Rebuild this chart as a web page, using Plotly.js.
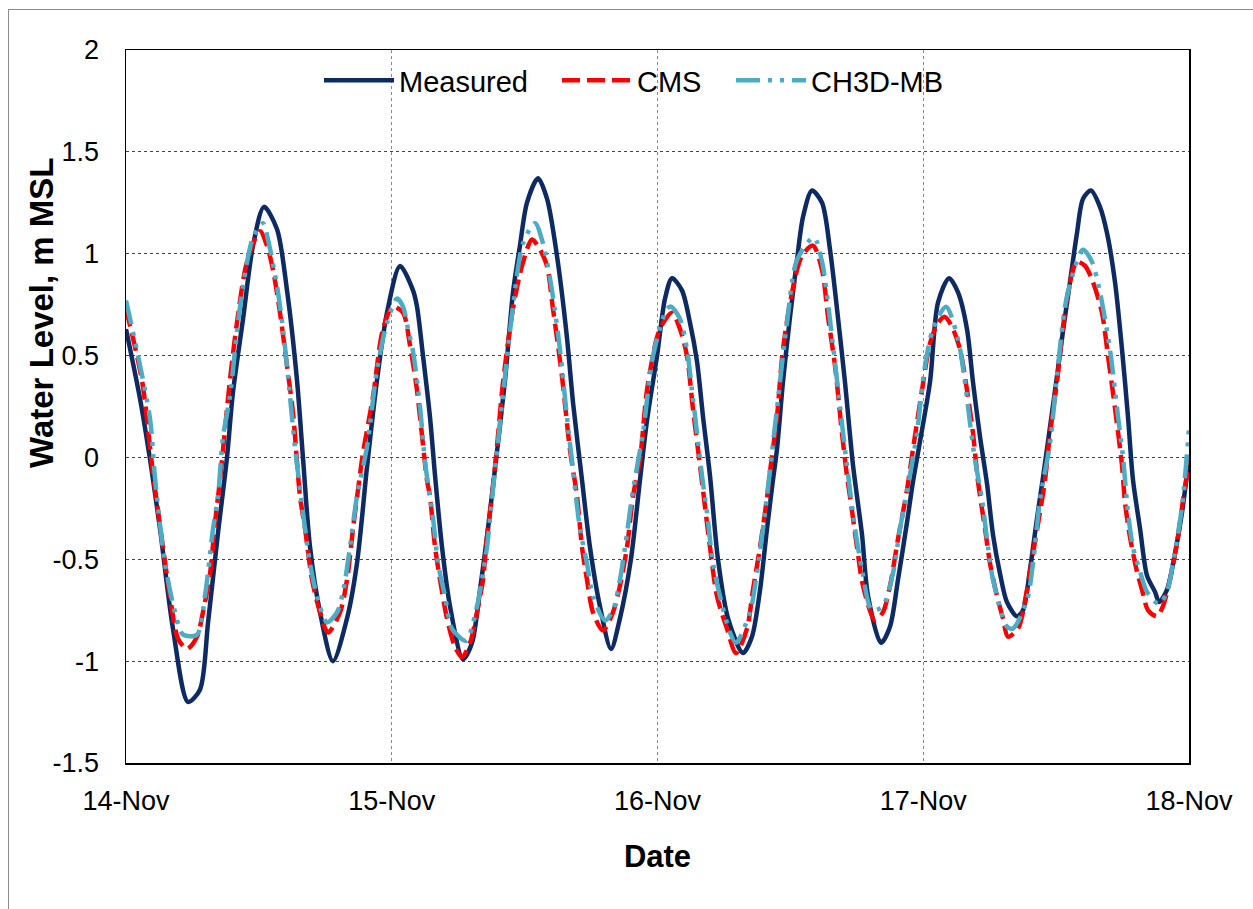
<!DOCTYPE html>
<html><head><meta charset="utf-8">
<script src="https://cdn.plot.ly/plotly-3.0.1.min.js"></script>
<style>
html,body{margin:0;padding:0;background:#fff;}
#chart{width:1253px;height:909px;}
#frame{position:absolute;left:8px;top:9px;width:1252px;height:906px;border:1px solid #8c8c8c;box-sizing:border-box;pointer-events:none;}
</style>
</head><body>
<div id="chart"></div><div id="frame"></div>
<script>
// Hours after 14-Nov 00:00 and water level (m MSL)
const measuredHours = [0.00,1.26,2.17,3.07,4.24,5.60,6.68,7.41,8.31,9.12,9.66,10.57,11.47,12.46,13.64,14.54,15.44,15.98,16.62,17.52,18.69,19.96,20.86,21.76,22.67,23.57,24.75,25.92,26.28,26.82,27.45,27.91,28.54,29.26,30.43,31.25,31.97,32.60,33.23,34.23,34.95,35.58,36.21,37.21,38.02,38.92,39.82,40.37,41.18,41.90,42.80,43.80,44.61,45.60,46.42,47.05,47.96,48.68,49.31,50.21,50.94,51.57,52.11,52.74,53.46,54.37,55.72,56.53,57.26,57.89,58.43,58.79,59.33,59.97,60.60,61.14,61.95,62.86,63.58,64.21,64.93,65.66,66.47,67.01,68.18,69.00,69.72,70.53,71.07,71.71,72.61,73.33,74.33,75.14,75.95,76.49,77.13,77.76,78.30,78.93,79.56,80.47,81.01,81.64,82.27,82.81,83.17,84.08,84.62,85.25,85.88,86.43,87.15,87.96,88.60,89.32,89.95,90.49,90.94,91.58,92.21,92.93,93.29,94.01,94.74,95.37,96.00];
const measuredLevel = [0.63,0.29,-0.01,-0.35,-0.84,-1.20,-1.14,-0.81,-0.37,0.00,0.32,0.68,1.04,1.23,1.12,0.82,0.38,0.00,-0.44,-0.76,-1.00,-0.79,-0.52,-0.05,0.38,0.71,0.94,0.82,0.74,0.50,0.20,-0.09,-0.44,-0.73,-0.99,-0.91,-0.65,-0.39,-0.10,0.38,0.81,1.04,1.25,1.37,1.27,0.99,0.59,0.27,-0.11,-0.44,-0.73,-0.94,-0.79,-0.50,-0.11,0.18,0.50,0.78,0.88,0.82,0.66,0.47,0.20,-0.09,-0.50,-0.79,-0.96,-0.88,-0.65,-0.35,-0.11,0.04,0.37,0.69,0.97,1.18,1.31,1.25,1.02,0.73,0.37,-0.04,-0.38,-0.68,-0.91,-0.83,-0.60,-0.32,-0.12,0.08,0.37,0.76,0.88,0.81,0.63,0.37,0.10,-0.13,-0.38,-0.57,-0.71,-0.78,-0.75,-0.55,-0.30,-0.10,0.04,0.40,0.62,0.86,1.10,1.27,1.31,1.23,1.10,0.86,0.53,0.20,-0.11,-0.35,-0.58,-0.66,-0.71,-0.65,-0.47,-0.27,0.00];

const cmsHours = [0.00,1.44,2.17,2.44,3.34,3.97,4.70,5.51,6.41,6.95,7.59,8.04,8.49,9.39,10.02,10.93,12.10,12.73,13.28,13.91,14.54,15.08,15.44,15.71,16.17,16.80,17.52,18.24,19.33,19.96,20.50,20.95,21.40,22.31,23.21,24.11,25.02,25.65,26.28,26.55,27.18,27.45,27.91,28.36,28.99,29.71,30.34,31.07,31.70,32.24,32.60,33.05,33.50,34.05,34.95,35.76,36.67,37.39,38.02,38.56,39.37,40.09,40.73,41.18,41.63,42.17,43.08,43.98,44.61,45.25,45.79,46.42,47.05,47.96,48.50,49.31,50.03,50.66,51.20,51.84,52.11,52.74,53.37,54.27,55.09,56.08,56.62,57.26,57.98,58.16,58.79,59.33,60.15,61.05,62.04,62.86,63.40,64.03,64.66,65.11,65.38,66.02,66.56,67.64,68.36,69.00,69.72,70.53,71.07,71.89,72.61,73.33,73.96,74.69,75.32,75.95,76.49,76.95,77.58,78.03,78.66,79.20,79.65,80.56,81.37,81.91,82.54,83.00,83.45,84.08,84.62,85.25,85.88,86.61,87.33,88.14,88.68,89.32,89.95,90.22,90.67,91.30,91.76,92.30,93.11,93.65,94.28,94.92,95.46,96.00];
const cmsLevel = [0.73,0.38,0.05,-0.08,-0.44,-0.68,-0.89,-0.94,-0.88,-0.76,-0.57,-0.32,-0.11,0.38,0.66,0.96,1.11,1.04,0.92,0.71,0.45,0.22,-0.02,-0.19,-0.35,-0.60,-0.76,-0.86,-0.76,-0.60,-0.35,-0.16,0.02,0.30,0.63,0.74,0.71,0.55,0.33,0.20,-0.11,-0.19,-0.44,-0.60,-0.79,-0.93,-0.98,-0.91,-0.76,-0.60,-0.39,-0.19,0.05,0.37,0.73,0.94,1.07,1.02,0.94,0.73,0.40,0.04,-0.19,-0.44,-0.60,-0.76,-0.85,-0.76,-0.63,-0.44,-0.19,-0.01,0.33,0.59,0.66,0.71,0.63,0.50,0.24,-0.04,-0.16,-0.44,-0.68,-0.84,-0.96,-0.84,-0.65,-0.44,-0.16,-0.07,0.20,0.53,0.81,0.99,1.04,0.92,0.69,0.45,0.12,-0.09,-0.19,-0.44,-0.63,-0.80,-0.76,-0.63,-0.40,-0.16,0.04,0.33,0.56,0.66,0.69,0.63,0.53,0.33,0.12,-0.12,-0.35,-0.52,-0.68,-0.79,-0.88,-0.84,-0.65,-0.47,-0.27,-0.11,0.12,0.37,0.64,0.86,0.96,0.94,0.86,0.71,0.50,0.24,-0.04,-0.22,-0.39,-0.56,-0.65,-0.75,-0.78,-0.73,-0.60,-0.42,-0.21,-0.02];

const ch3dHours = [0.00,1.08,2.17,2.62,3.52,4.43,5.15,6.41,7.13,7.86,8.31,8.76,9.39,10.30,11.47,12.37,12.82,13.64,14.18,14.81,15.26,16.17,16.62,17.25,18.15,19.06,19.60,20.23,20.86,21.76,22.67,23.57,24.47,25.02,25.47,25.92,26.55,27.00,27.73,28.18,28.81,29.44,30.70,31.70,32.15,32.60,33.14,34.23,34.95,35.85,36.94,37.66,38.47,39.19,39.82,40.28,41.00,41.63,42.17,43.26,43.98,44.61,45.07,45.79,46.69,47.60,48.86,49.22,50.03,50.66,51.11,51.57,52.02,52.47,53.01,53.64,54.55,55.09,56.35,56.98,57.71,58.79,59.69,60.60,62.13,62.86,63.76,64.48,65.11,65.84,66.47,67.37,68.36,69.26,69.90,70.53,71.43,72.16,72.88,74.06,75.14,75.77,76.22,76.67,77.31,77.85,78.30,79.56,80.10,81.37,81.91,82.54,83.45,84.08,84.98,86.43,87.24,87.96,88.86,89.59,90.04,90.49,90.94,91.58,92.21,93.29,94.01,94.55,95.37,96.00];
const ch3dLevel = [0.77,0.50,0.19,-0.10,-0.52,-0.76,-0.87,-0.87,-0.68,-0.35,-0.19,0.10,0.30,0.74,1.08,1.15,1.07,0.84,0.63,0.30,0.05,-0.35,-0.52,-0.68,-0.81,-0.76,-0.66,-0.44,-0.19,0.05,0.43,0.66,0.78,0.74,0.63,0.52,0.25,-0.02,-0.30,-0.52,-0.68,-0.84,-0.90,-0.73,-0.60,-0.44,-0.16,0.40,0.74,1.05,1.15,1.05,0.82,0.53,0.20,-0.02,-0.35,-0.52,-0.68,-0.80,-0.75,-0.60,-0.44,-0.16,0.12,0.50,0.73,0.74,0.68,0.53,0.33,0.12,-0.09,-0.27,-0.52,-0.68,-0.86,-0.91,-0.76,-0.57,-0.27,0.24,0.66,0.97,1.08,0.96,0.59,0.25,-0.04,-0.35,-0.55,-0.75,-0.73,-0.57,-0.35,-0.17,0.12,0.45,0.63,0.74,0.58,0.37,0.17,-0.01,-0.21,-0.44,-0.60,-0.83,-0.84,-0.70,-0.52,-0.21,0.07,0.40,0.79,1.02,0.96,0.81,0.53,0.20,0.00,-0.27,-0.44,-0.56,-0.66,-0.72,-0.66,-0.52,-0.24,0.14];

const seriesNames = ['Measured','CMS','CH3D-MB'];
const yTickVals = [-1.5,-1,-0.5,0,0.5,1,1.5,2];
const yTickText = ['-1.5','-1','-0.5','0','0.5','1','1.5','2'];
const startDate = Date.UTC(2008,10,14);
const endDate = Date.UTC(2008,10,18);
const xTickVals = [Date.UTC(2008,10,14),Date.UTC(2008,10,15),Date.UTC(2008,10,16),Date.UTC(2008,10,17),Date.UTC(2008,10,18)];
const xTickText = ['14-Nov','15-Nov','16-Nov','17-Nov','18-Nov'];

const toDates = hrs => hrs.map(h => startDate + h*3600000);
const FONT = 'Liberation Sans, Arial, sans-serif';
const L = 126, R = 1189, T = 50, B = 763;
const px2x = p => (p - L) / (R - L);
const px2y = p => (B - p) / (B - T);

const traces = [
  {x: toDates(measuredHours), y: measuredLevel, name: seriesNames[0], type:'scatter', mode:'lines', legend:'legend',
   line:{color:'#0d2a63', width:4.5, shape:'spline', smoothing:0.8}},
  {x: toDates(cmsHours), y: cmsLevel, name: seriesNames[1], type:'scatter', mode:'lines', legend:'legend2',
   line:{color:'#ff0000', width:4.5, dash:'18px,7px', shape:'spline', smoothing:0.8}},
  {x: toDates(ch3dHours), y: ch3dLevel, name: seriesNames[2], type:'scatter', mode:'lines', legend:'legend3',
   line:{color:'#4bacc6', width:4.5, dash:'24px,8px,4px,8px,4px,8px', shape:'spline', smoothing:0.8}}
];

const legendBase = y => ({orientation:'h', y:y, xanchor:'left', yanchor:'top',
  font:{family:FONT, size:29, color:'#000'}, bgcolor:'rgba(0,0,0,0)', itemwidth:70});
const legY = px2y(55);

const layout = {
  width:1253, height:909,
  margin:{l:L, r:1253-R, t:T, b:909-B},
  paper_bgcolor:'#ffffff', plot_bgcolor:'#ffffff',
  font:{family:FONT, size:27, color:'#000'},
  showlegend:true,
  legend: Object.assign(legendBase(legY), {x: px2x(319)}),
  legend2: Object.assign(legendBase(legY), {x: px2x(557)}),
  legend3: Object.assign(legendBase(legY), {x: px2x(731)}),
  xaxis:{type:'date', range:[startDate, endDate], tickvals:xTickVals, ticktext:xTickText,
         showgrid:true, gridcolor:'#8a8a8a', griddash:'dot', gridwidth:1,
         showline:true, linecolor:'#000', linewidth:1.5, mirror:true, ticks:'', zeroline:false,
         tickfont:{family:FONT, size:27, color:'#000'}, ticklabelstandoff:13,
         title:{text:'<b>Date</b>', font:{family:FONT, size:31, color:'#000'}, standoff:30}},
  yaxis:{range:[-1.5,2], tickvals:yTickVals, ticktext:yTickText,
         showgrid:true, gridcolor:'#444', griddash:'dot', gridwidth:1,
         showline:true, linecolor:'#000', linewidth:1.5, mirror:true, ticks:'', zeroline:false,
         tickfont:{family:FONT, size:27, color:'#000'}, ticklabelstandoff:20},
  annotations:[{text:'<b>Water Level, m MSL</b>', xref:'paper', yref:'paper',
    x:px2x(41), y:px2y(313), xanchor:'center', yanchor:'middle', textangle:-90,
    showarrow:false, font:{family:FONT, size:33, color:'#000'}}]
};

Plotly.newPlot('chart', traces, layout, {displayModeBar:false, staticPlot:true});
</script>
</body></html>
